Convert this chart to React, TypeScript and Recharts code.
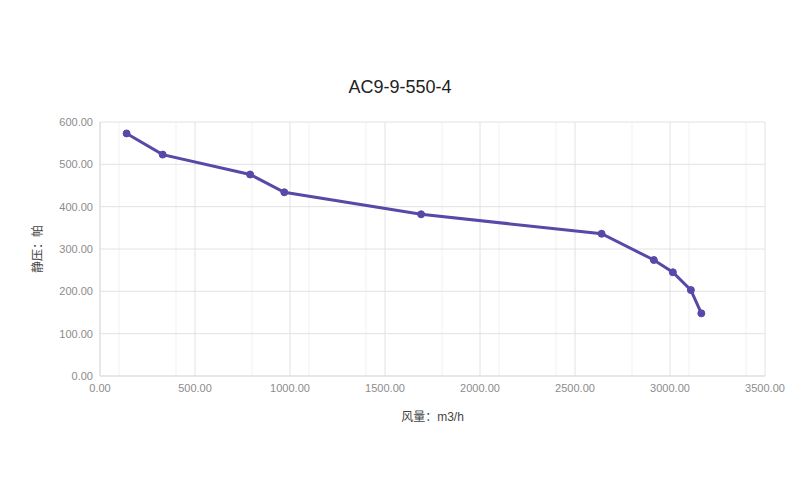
import React from 'react'
import {
  LineChart, Line, XAxis, YAxis, CartesianGrid, Label,
} from 'recharts'

// 风量 (m3/h) vs 静压 (Pa)
const airflow = [140, 330, 790, 970, 1690, 2640, 2915, 3015, 3110, 3165]
const pressure = [573, 523, 476, 434, 382, 336, 274, 245, 203, 148]

const xTicks = [0, 500, 1000, 1500, 2000, 2500, 3000, 3500]
const yTicks = [0, 100, 200, 300, 400, 500, 600]
const xMinor = [
  100, 200, 300, 400, 600, 700, 800, 900, 1100, 1200, 1300, 1400,
  1600, 1700, 1800, 1900, 2100, 2200, 2300, 2400, 2600, 2700, 2800, 2900,
  3100, 3200, 3300, 3400,
]

const data = airflow.map((x, i) => ({ x, y: pressure[i] }))

const FONT = '"Liberation Sans", Arial, "Noto Sans CJK SC", sans-serif'
const LINE = '#5649a8'

export default function App() {
  const tick = { fontSize: 11, fill: '#8c8c8c', fontFamily: FONT }
  return (
    <div style={{ position: 'absolute', left: 0, top: 0, width: 800, height: 500, background: '#fff' }}>
      <div
        style={{
          position: 'absolute', left: 0, top: 77, width: 800, textAlign: 'center',
          fontFamily: FONT, fontSize: 18, color: '#222',
        }}
      >
        AC9-9-550-4
      </div>
      <LineChart width={800} height={500} data={data} margin={{ top: 122, right: 35, left: 30, bottom: 79 }}>
        {/* minor vertical grid */}
        <CartesianGrid
          horizontal={false}
          verticalValues={xMinor}
          stroke="#f1f1f1"
        />
        <CartesianGrid
          verticalValues={xTicks}
          horizontalValues={yTicks}
          stroke="#e2e2e2"
        />
        <XAxis
          dataKey="x"
          type="number"
          domain={[0, 3500]}
          ticks={xTicks}
          tickFormatter={(v) => v.toFixed(2)}
          tick={tick}
          tickLine={false}
          axisLine={{ stroke: '#dcdcdc' }}
          height={45}
        >
          <Label value="风量：m3/h" position="insideBottom" offset={0} style={{ fontSize: 12, fill: '#444', fontFamily: FONT }} />
        </XAxis>
        <YAxis
          dataKey="y"
          type="number"
          domain={[0, 600]}
          ticks={yTicks}
          tickFormatter={(v) => v.toFixed(2)}
          tick={tick}
          tickLine={false}
          tickSize={5}
          axisLine={{ stroke: '#dcdcdc' }}
          width={70}
        >
          <Label
            value="静压：帕"
            angle={-90}
            position="insideLeft"
            offset={8}
            style={{ fontSize: 12, fill: '#444', fontFamily: FONT, textAnchor: 'middle' }}
          />
        </YAxis>
        <Line
          type="linear"
          dataKey="y"
          stroke={LINE}
          strokeWidth={3}
          dot={{ r: 3.5, fill: LINE, stroke: LINE, strokeWidth: 1 }}
          activeDot={false}
          isAnimationActive={false}
        />
      </LineChart>
    </div>
  )
}
